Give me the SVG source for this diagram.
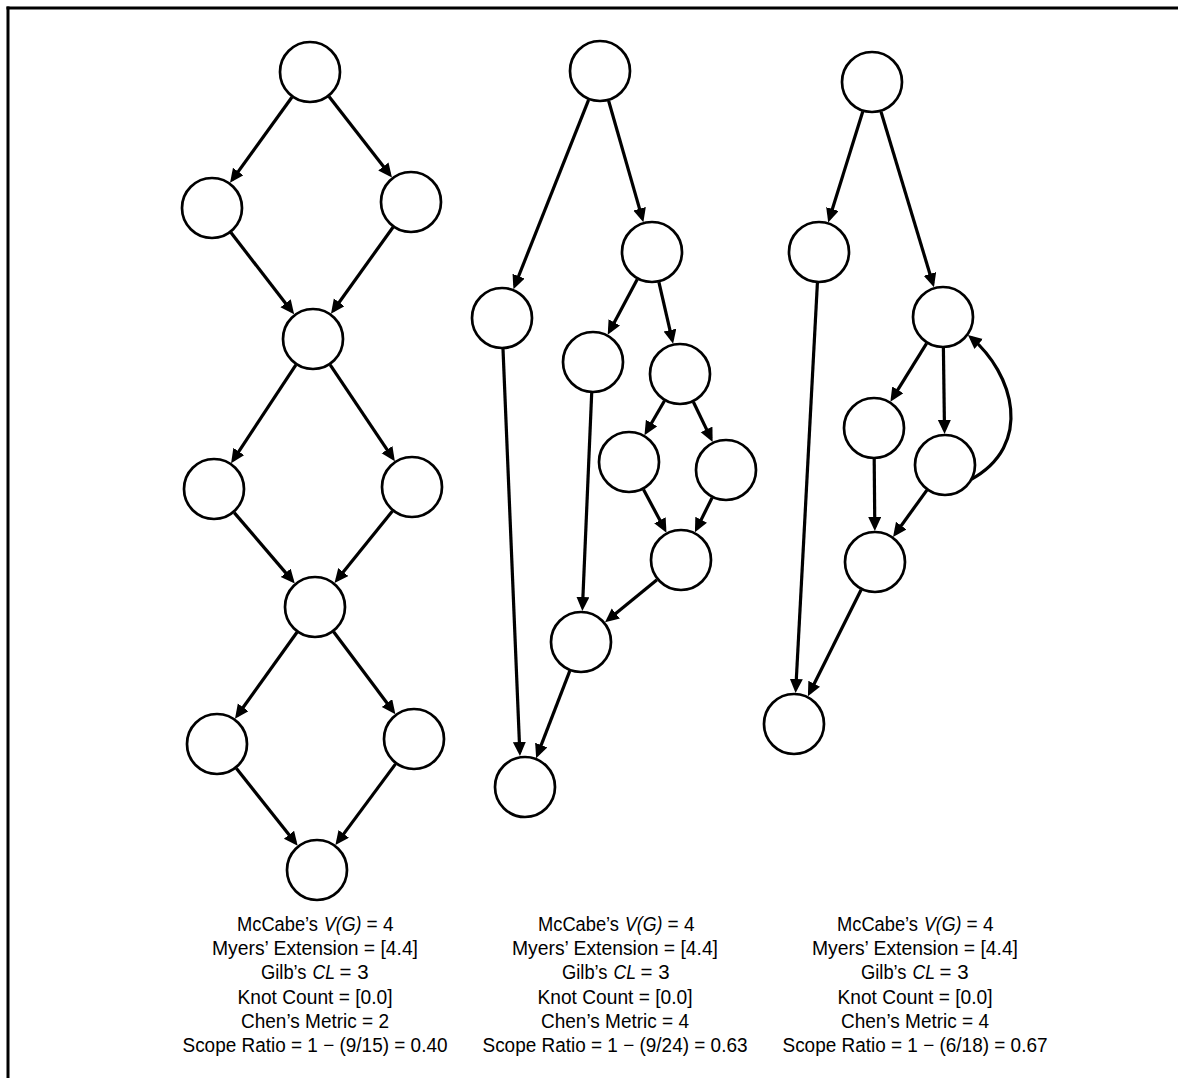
<svg xmlns="http://www.w3.org/2000/svg" width="1178" height="1078" viewBox="0 0 1178 1078">
<style>
.n{fill:#fff;stroke:#000;stroke-width:2.7}
.e{fill:none;stroke:#000;stroke-width:3.2;marker-end:url(#ah)}
.f{fill:none;stroke:#000;stroke-width:3}
.t{font-family:"Liberation Sans",Arial,sans-serif;font-size:20px;text-anchor:middle;fill:#000}
.s{font-family:"Liberation Sans",Arial,sans-serif;font-size:20px;text-anchor:start;fill:#000}
.i{font-style:italic}
</style>
<defs>
<marker id="ah" markerUnits="userSpaceOnUse" markerWidth="16" markerHeight="15" refX="10" refY="6.5" orient="auto">
<path d="M0,0 L14,6.5 L0,13 z" fill="#000"/>
</marker>
</defs>
<rect width="1178" height="1078" fill="#fff"/>
<g id="frame">
<line class="f" x1="6.5" y1="8" x2="1178" y2="8"/>
<line class="f" x1="8" y1="6.5" x2="8" y2="1078"/>
</g>
<g id="connectors">
<!-- graph 1 -->
<line class="e" x1="291.9" y1="97.2" x2="232.4" y2="179.6"/>
<line class="e" x1="329.0" y1="96.5" x2="389.5" y2="174.3"/>
<line class="e" x1="230.9" y1="232.6" x2="291.7" y2="311.2"/>
<line class="e" x1="393.0" y1="227.2" x2="333.3" y2="310.5"/>
<line class="e" x1="295.9" y1="364.9" x2="233.3" y2="459.8"/>
<line class="e" x1="330.2" y1="364.8" x2="392.6" y2="457.9"/>
<line class="e" x1="234.2" y1="512.6" x2="292.2" y2="580.4"/>
<line class="e" x1="392.5" y1="511.1" x2="337.0" y2="579.8"/>
<line class="e" x1="297.0" y1="632.2" x2="237.3" y2="715.5"/>
<line class="e" x1="333.6" y1="631.8" x2="393.0" y2="711.0"/>
<line class="e" x1="236.3" y1="768.3" x2="295.2" y2="842.6"/>
<line class="e" x1="395.6" y1="763.9" x2="337.8" y2="841.9"/>
<!-- graph 2 -->
<line class="e" x1="588.6" y1="99.8" x2="514.9" y2="285.5"/>
<line class="e" x1="608.6" y1="100.8" x2="642.3" y2="218.4"/>
<line class="e" x1="637.3" y1="279.3" x2="609.6" y2="331.2"/>
<line class="e" x1="658.9" y1="282.2" x2="672.2" y2="339.9"/>
<line class="e" x1="664.5" y1="400.8" x2="646.5" y2="431.7"/>
<line class="e" x1="693.4" y1="402.0" x2="710.9" y2="438.4"/>
<line class="e" x1="643.5" y1="489.4" x2="664.6" y2="529.1"/>
<line class="e" x1="712.1" y1="497.7" x2="696.7" y2="528.7"/>
<line class="e" x1="657.0" y1="579.7" x2="608.1" y2="619.8"/>
<line class="e" x1="591.7" y1="393.0" x2="582.5" y2="607.0"/>
<line class="e" x1="503.0" y1="349.0" x2="519.8" y2="752.0"/>
<line class="e" x1="569.8" y1="670.9" x2="537.6" y2="754.4"/>
<!-- graph 3 -->
<line class="e" x1="862.8" y1="111.6" x2="829.4" y2="218.6"/>
<line class="e" x1="881.0" y1="111.7" x2="932.8" y2="283.5"/>
<line class="e" x1="926.6" y1="343.3" x2="892.5" y2="398.3"/>
<line class="e" x1="943.4" y1="348.0" x2="944.5" y2="430.0"/>
<line class="e" x1="874.2" y1="459.0" x2="874.8" y2="527.0"/>
<line class="e" x1="926.9" y1="490.1" x2="895.4" y2="533.7"/>
<line class="e" x1="861.1" y1="589.7" x2="809.7" y2="692.7"/>
<line class="e" x1="817.4" y1="283.0" x2="795.8" y2="689.0"/>
<path class="e" d="M970,480 C1035,445 1013,373 971,337.6"/>
</g>
<g id="graph1-nodes">
<g id="g1-n1"><circle class="n" cx="310" cy="72" r="30"/></g>
<g id="g1-n2"><circle class="n" cx="212" cy="208" r="30"/></g>
<g id="g1-n3"><circle class="n" cx="411" cy="202" r="30"/></g>
<g id="g1-n4"><circle class="n" cx="313" cy="339" r="30"/></g>
<g id="g1-n5"><circle class="n" cx="214" cy="489" r="30"/></g>
<g id="g1-n6"><circle class="n" cx="412" cy="487" r="30"/></g>
<g id="g1-n7"><circle class="n" cx="315" cy="607" r="30"/></g>
<g id="g1-n8"><circle class="n" cx="217" cy="744" r="30"/></g>
<g id="g1-n9"><circle class="n" cx="414" cy="739" r="30"/></g>
<g id="g1-n10"><circle class="n" cx="317" cy="870" r="30"/></g>
</g>
<g id="graph2-nodes">
<g id="g2-n1"><circle class="n" cx="600" cy="71" r="30"/></g>
<g id="g2-n2"><circle class="n" cx="502" cy="318" r="30"/></g>
<g id="g2-n3"><circle class="n" cx="652" cy="252" r="30"/></g>
<g id="g2-n4"><circle class="n" cx="593" cy="362" r="30"/></g>
<g id="g2-n5"><circle class="n" cx="680" cy="374" r="30"/></g>
<g id="g2-n6"><circle class="n" cx="629" cy="462" r="30"/></g>
<g id="g2-n7"><circle class="n" cx="726" cy="470" r="30"/></g>
<g id="g2-n8"><circle class="n" cx="681" cy="560" r="30"/></g>
<g id="g2-n9"><circle class="n" cx="581" cy="642" r="30"/></g>
<g id="g2-n10"><circle class="n" cx="525" cy="787" r="30"/></g>
</g>
<g id="graph3-nodes">
<g id="g3-n1"><circle class="n" cx="872" cy="82" r="30"/></g>
<g id="g3-n2"><circle class="n" cx="819" cy="252" r="30"/></g>
<g id="g3-n3"><circle class="n" cx="943" cy="317" r="30"/></g>
<g id="g3-n4"><circle class="n" cx="874" cy="428" r="30"/></g>
<g id="g3-n5"><circle class="n" cx="945" cy="465" r="30"/></g>
<g id="g3-n6"><circle class="n" cx="875" cy="562" r="30"/></g>
<g id="g3-n7"><circle class="n" cx="794" cy="724" r="30"/></g>
</g>
<g id="metrics1">
<text class="s" x="237" y="931" textLength="81" lengthAdjust="spacingAndGlyphs">McCabe’s</text>
<text class="s i" x="324" y="931" textLength="37.5" lengthAdjust="spacingAndGlyphs">V(G)</text>
<text class="s" x="366.5" y="931" textLength="27" lengthAdjust="spacingAndGlyphs">= 4</text>
<text class="t" x="315" y="955" textLength="206" lengthAdjust="spacingAndGlyphs">Myers’ Extension = [4.4]</text>
<text class="s" x="261" y="979" textLength="45.5" lengthAdjust="spacingAndGlyphs">Gilb’s</text>
<text class="s i" x="312.5" y="979" textLength="22.5" lengthAdjust="spacingAndGlyphs">CL</text>
<text class="s" x="339.5" y="979" textLength="29" lengthAdjust="spacingAndGlyphs">= 3</text>
<text class="t" x="315" y="1003.5" textLength="155" lengthAdjust="spacingAndGlyphs">Knot Count = [0.0]</text>
<text class="t" x="315" y="1027.5" textLength="148" lengthAdjust="spacingAndGlyphs">Chen’s Metric = 2</text>
<text class="t" x="315" y="1052" textLength="265" lengthAdjust="spacingAndGlyphs">Scope Ratio = 1 − (9/15) = 0.40</text>
</g>
<g id="metrics2">
<text class="s" x="538" y="931" textLength="81" lengthAdjust="spacingAndGlyphs">McCabe’s</text>
<text class="s i" x="625" y="931" textLength="37.5" lengthAdjust="spacingAndGlyphs">V(G)</text>
<text class="s" x="667.5" y="931" textLength="27" lengthAdjust="spacingAndGlyphs">= 4</text>
<text class="t" x="615" y="955" textLength="206" lengthAdjust="spacingAndGlyphs">Myers’ Extension = [4.4]</text>
<text class="s" x="562" y="979" textLength="45.5" lengthAdjust="spacingAndGlyphs">Gilb’s</text>
<text class="s i" x="613.5" y="979" textLength="22.5" lengthAdjust="spacingAndGlyphs">CL</text>
<text class="s" x="640.5" y="979" textLength="29" lengthAdjust="spacingAndGlyphs">= 3</text>
<text class="t" x="615" y="1003.5" textLength="155" lengthAdjust="spacingAndGlyphs">Knot Count = [0.0]</text>
<text class="t" x="615" y="1027.5" textLength="148" lengthAdjust="spacingAndGlyphs">Chen’s Metric = 4</text>
<text class="t" x="615" y="1052" textLength="265" lengthAdjust="spacingAndGlyphs">Scope Ratio = 1 − (9/24) = 0.63</text>
</g>
<g id="metrics3">
<text class="s" x="837" y="931" textLength="81" lengthAdjust="spacingAndGlyphs">McCabe’s</text>
<text class="s i" x="924" y="931" textLength="37.5" lengthAdjust="spacingAndGlyphs">V(G)</text>
<text class="s" x="966.5" y="931" textLength="27" lengthAdjust="spacingAndGlyphs">= 4</text>
<text class="t" x="915" y="955" textLength="206" lengthAdjust="spacingAndGlyphs">Myers’ Extension = [4.4]</text>
<text class="s" x="861" y="979" textLength="45.5" lengthAdjust="spacingAndGlyphs">Gilb’s</text>
<text class="s i" x="912.5" y="979" textLength="22.5" lengthAdjust="spacingAndGlyphs">CL</text>
<text class="s" x="939.5" y="979" textLength="29" lengthAdjust="spacingAndGlyphs">= 3</text>
<text class="t" x="915" y="1003.5" textLength="155" lengthAdjust="spacingAndGlyphs">Knot Count = [0.0]</text>
<text class="t" x="915" y="1027.5" textLength="148" lengthAdjust="spacingAndGlyphs">Chen’s Metric = 4</text>
<text class="t" x="915" y="1052" textLength="265" lengthAdjust="spacingAndGlyphs">Scope Ratio = 1 − (6/18) = 0.67</text>
</g>
</svg>
